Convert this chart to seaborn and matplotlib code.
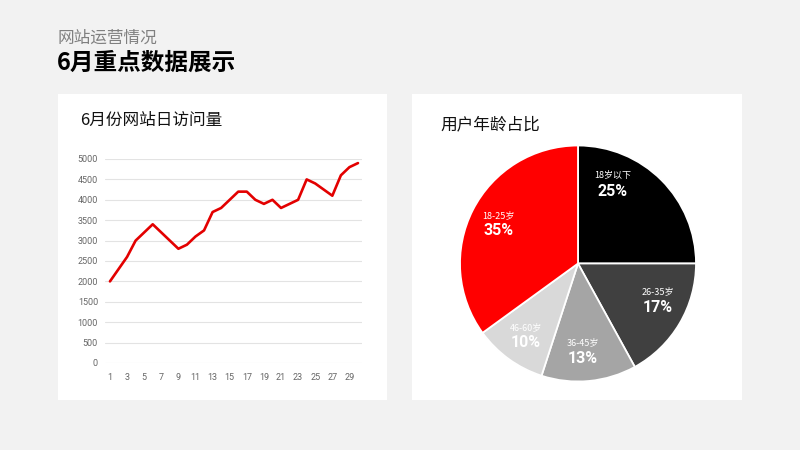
import numpy as np
import pandas as pd
import matplotlib
matplotlib.use("Agg")
import matplotlib.pyplot as plt
from matplotlib.patches import Rectangle
import seaborn as sns

# ---- data ----
days = list(range(1, 31))
visits = [2000, 2300, 2600, 3000, 3200, 3400, 3200, 3000, 2800, 2900,
          3100, 3250, 3700, 3800, 4000, 4200, 4200, 4000, 3900, 4000,
          3800, 3900, 4000, 4500, 4400, 4250, 4100, 4600, 4800, 4900]
y_ticks = [0, 500, 1000, 1500, 2000, 2500, 3000, 3500, 4000, 4500, 5000]
x_ticks = list(range(1, 30, 2))

age_groups = ["18岁以下", "26-35岁", "36-45岁", "46-60岁", "18-25岁"]
age_share = [25, 17, 13, 10, 35]
age_colors = ["#000000", "#404040", "#a5a5a5", "#d9d9d9", "#ff0000"]

header_sub = "网站运营情况"
header_main = "6月重点数据展示"
line_title = "6月份网站日访问量"
pie_title = "用户年龄占比"

# label placement style (fraction along each wedge, radius)
label_frac = [0.26, 0.40, 0.55, 0.50, 0.50]
label_rad = [0.74, 0.74, 0.74, 0.75, 0.76]

sns.set_theme(style="white")
plt.rcParams['font.family'] = ['Noto Sans CJK SC', 'DejaVu Sans']

W, H = 800, 450
fig = plt.figure(figsize=(8, 4.5), dpi=100)
fig.patch.set_facecolor("#f2f2f2")

def fx(px):
    return px / W

def fy(py):
    return 1 - py / H

# panels
for x0, x1 in [(58, 387), (412, 742)]:
    fig.patches.append(Rectangle((fx(x0), fy(400)), fx(x1 - x0), (400 - 94) / H,
                                 transform=fig.transFigure, facecolor="white",
                                 edgecolor="none", zorder=-5))

fig.text(fx(58), fy(38), header_sub, fontsize=12, color="#808080", va="center", ha="left")
fig.text(fx(57), fy(63), header_main, fontsize=17, color="#000000", fontweight="bold",
         va="center", ha="left")
fig.text(fx(80), fy(120), line_title, fontsize=12, color="#111111", va="center", ha="left")
fig.text(fx(440), fy(125), pie_title, fontsize=12, color="#111111", va="center", ha="left")

# ---- line chart ----
ax = fig.add_axes([fx(105), fy(363), fx(362 - 105), (363 - 159) / H])
df = pd.DataFrame({"day": days, "visits": visits})
sns.lineplot(data=df, x="day", y="visits", ax=ax, color="#e30000", linewidth=1.9,
             clip_on=False, zorder=3)
ax.set_xlim(0.42, 30.47)
ax.set_ylim(0, 5000)
ax.set_yticks(y_ticks)
ax.set_xticks(x_ticks)
ax.set_xlabel("")
ax.set_ylabel("")
ax.set_facecolor("none")
for s in ax.spines.values():
    s.set_visible(False)
ax.grid(axis="y", color="#e3e3e3", linewidth=0.8)
ax.grid(axis="x", visible=False)
ax.tick_params(axis="both", length=0, labelsize=6.5, colors="#666666")
ax.tick_params(axis="y", pad=5)
ax.tick_params(axis="x", pad=7)
for t in ax.get_xticklabels() + ax.get_yticklabels():
    t.set_family(["Roboto", "DejaVu Sans"])

# ---- pie chart ----
cx, cy, r = 578, 263.5, 118
pax = fig.add_axes([fx(cx - r), fy(cy + r), fx(2 * r), 2 * r / H])
wedges, _ = pax.pie(age_share, colors=age_colors, startangle=90, counterclock=False,
                    wedgeprops=dict(edgecolor="white", linewidth=1.3))
pax.set_xlim(-1, 1)
pax.set_ylim(-1, 1)
pax.set_aspect("equal")
pax.axis("off")

total = sum(age_share)
cum = 0
for name, val, fr, rr in zip(age_groups, age_share, label_frac, label_rad):
    ang = (cum + val * fr) / total * 2 * np.pi
    cum += val
    lx = rr * np.sin(ang)
    ly = rr * np.cos(ang)
    pax.text(lx, ly + 0.065, name, ha="center", va="center", fontsize=6.5, color="white")
    pax.text(lx, ly - 0.065, f"{val}%", ha="center", va="center", fontsize=11.5,
             fontweight="bold", color="white", family=["Roboto", "DejaVu Sans"])

fig.savefig("out.png", dpi=100, facecolor=fig.get_facecolor())
